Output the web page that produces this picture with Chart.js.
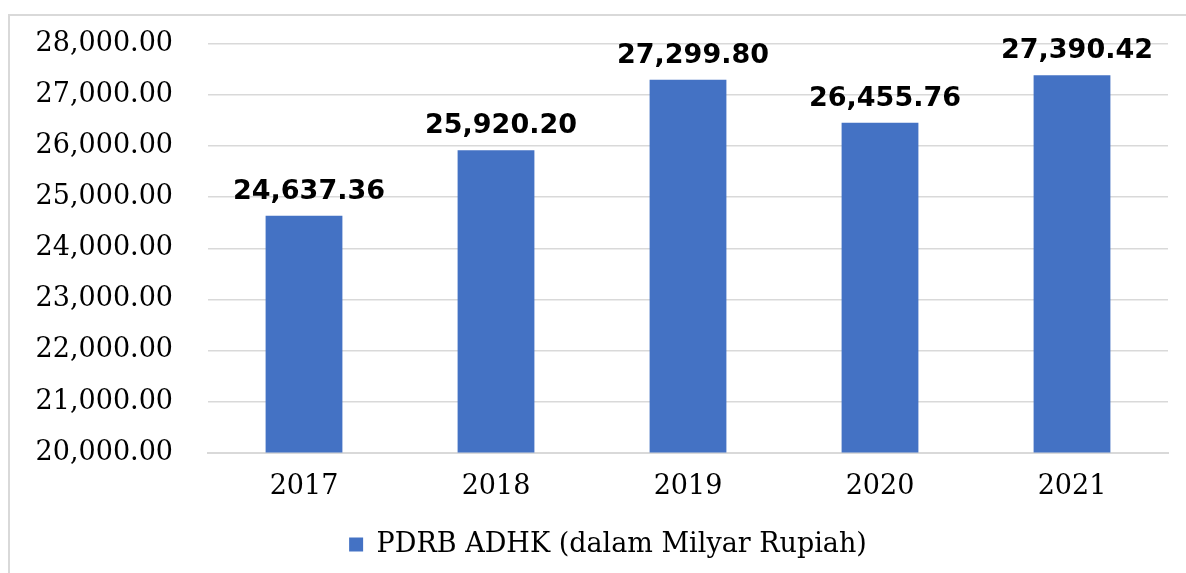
<!DOCTYPE html>
<html>
<head>
<meta charset="utf-8">
<script src="https://cdn.jsdelivr.net/npm/chart.js@4.4.1/dist/chart.umd.min.js"></script>
<style>
  html, body { margin: 0; padding: 0; background: #fff; }
  #wrap { width: 1186px; height: 573px; position: relative; }
</style>
</head>
<body>
<div id="wrap"><canvas id="chart" width="1186" height="573"></canvas></div>
<script>
// data
const years = ['2017', '2018', '2019', '2020', '2021'];
const pdrbValues = [24637.36, 25920.20, 27299.80, 26455.76, 27390.42];
const seriesLabel = 'PDRB ADHK (dalam Milyar Rupiah)';
const yMin = 20000;
const yMax = 28000;
const yStep = 1000;

const fmt = v => v.toLocaleString('en-US', { minimumFractionDigits: 2, maximumFractionDigits: 2 });

// frame around the chart, like the office chart border
const framePlugin = {
    id: 'frame',
    beforeDraw(chart) {
        const ctx = chart.ctx;
        ctx.save();
        ctx.strokeStyle = '#d9d9d9';
        ctx.lineWidth = 2;
        ctx.strokeRect(9, 15, 1200, 600);
        ctx.restore();
    }
};

// legend sits a bit right of the canvas centre in the reference
const legendShift = {
    id: 'legendShift',
    afterLayout(chart) {
        if (chart.legend) {
            chart.legend.left += 24;
            chart.legend.right += 24;
        }
    }
};

// value labels above each bar
const valueLabels = {
    id: 'valueLabels',
    afterDatasetsDraw(chart) {
        const ctx = chart.ctx;
        const meta = chart.getDatasetMeta(0);
        ctx.save();
        ctx.font = 'bold 27px "DejaVu Sans", Verdana, sans-serif';
        ctx.fillStyle = '#000';
        ctx.textAlign = 'center';
        ctx.textBaseline = 'alphabetic';
        meta.data.forEach((bar, i) => {
            ctx.fillText(fmt(chart.data.datasets[0].data[i]), bar.x + 5, bar.y - 17);
        });
        ctx.restore();
    }
};

new Chart(document.getElementById('chart'), {
    type: 'bar',
    data: {
        labels: years,
        datasets: [{
            label: seriesLabel,
            data: pdrbValues,
            backgroundColor: '#4472C4',
            borderWidth: 0,
            barPercentage: 0.4,
            categoryPercentage: 1
        }]
    },
    options: {
        responsive: false,
        animation: false,
        layout: { padding: { top: 44, right: 18, left: 0, bottom: 5 } },
        plugins: {
            legend: {
                position: 'bottom',
                labels: {
                    boxWidth: 14,
                    boxHeight: 14,
                    color: '#000',
                    font: { family: '"DejaVu Serif", serif', size: 27 },
                    padding: 10
                }
            },
            tooltip: { enabled: false }
        },
        scales: {
            x: {
                grid: { display: false, drawTicks: false },
                border: { color: '#d9d9d9', width: 2 },
                ticks: {
                    color: '#000',
                    padding: 18,
                    font: { family: '"DejaVu Serif", serif', size: 27 }
                }
            },
            y: {
                min: yMin,
                max: yMax,
                afterFit(scale) {
                    scale.width = 208;
                    scale.paddingTop = 0;
                    scale.paddingBottom = 0;
                },
                grid: { color: '#d9d9d9', lineWidth: 1.5, drawTicks: false },
                border: { display: false },
                ticks: {
                    stepSize: yStep,
                    color: '#000',
                    padding: 35,
                    font: { family: '"DejaVu Serif", serif', size: 27 },
                    callback: v => fmt(v)
                }
            }
        }
    },
    plugins: [framePlugin, legendShift, valueLabels]
});
</script>
</body>
</html>
